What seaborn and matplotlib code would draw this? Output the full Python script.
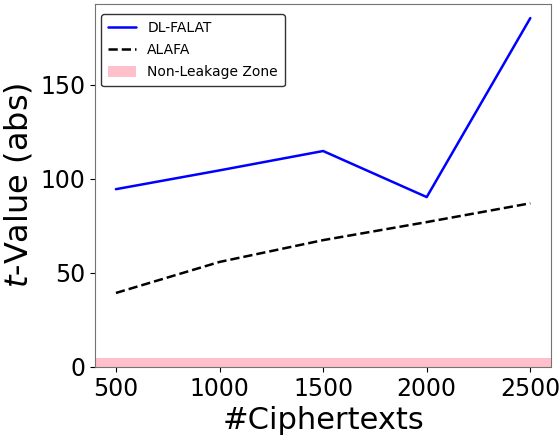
import matplotlib
matplotlib.use("Agg")
import matplotlib.pyplot as plt
import seaborn as sns
import pandas as pd

ciphertexts = [500, 1000, 1500, 2000, 2500]
dl_falat = [94.5, 104.5, 114.8, 90.3, 185.5]
alafa = [39.3, 55.8, 67.4, 77.0, 87.0]
threshold = 4.5
labels = ["DL-FALAT", "ALAFA", "Non-Leakage Zone"]

sns.set_style("ticks", {"axes.edgecolor": "0.45", "text.color": "black",
                        "axes.labelcolor": "black", "xtick.color": "black",
                        "ytick.color": "black"})
plt.rcParams["font.family"] = ["DejaVu Sans"]

fig = plt.figure(figsize=(5.6, 4.42), dpi=100)
ax = fig.add_axes([0.170, 0.170, 0.814, 0.821])

df = pd.DataFrame({"x": ciphertexts, "dl": dl_falat, "alafa": alafa})
sns.lineplot(data=df, x="x", y="dl", ax=ax, color="blue", linewidth=1.8, label=labels[0])
sns.lineplot(data=df, x="x", y="alafa", ax=ax, color="black", linewidth=1.8,
             linestyle="--", label=labels[1])
ax.fill_between([400, 2600], 0, threshold, color="pink", linewidth=0, label=labels[2])

ax.set_xlim(400, 2600)
ax.set_ylim(0, 193)
ax.set_xticks(ciphertexts)
ax.set_yticks([0, 50, 100, 150])
ax.tick_params(labelsize=17, length=3.5)
ax.set_xlabel("#Ciphertexts", fontsize=22)
ax.set_ylabel(r"$t$-Value (abs)", fontsize=23)

leg = ax.legend(loc="upper left", bbox_to_anchor=(0.0, 0.99), fontsize=10,
                frameon=True, fancybox=True, labelspacing=0.6, handleheight=0.9,
                borderpad=0.5, borderaxespad=0.45)
leg.get_frame().set_edgecolor("0.2")
leg.get_frame().set_alpha(1)

fig.savefig("out.png", dpi=100)
